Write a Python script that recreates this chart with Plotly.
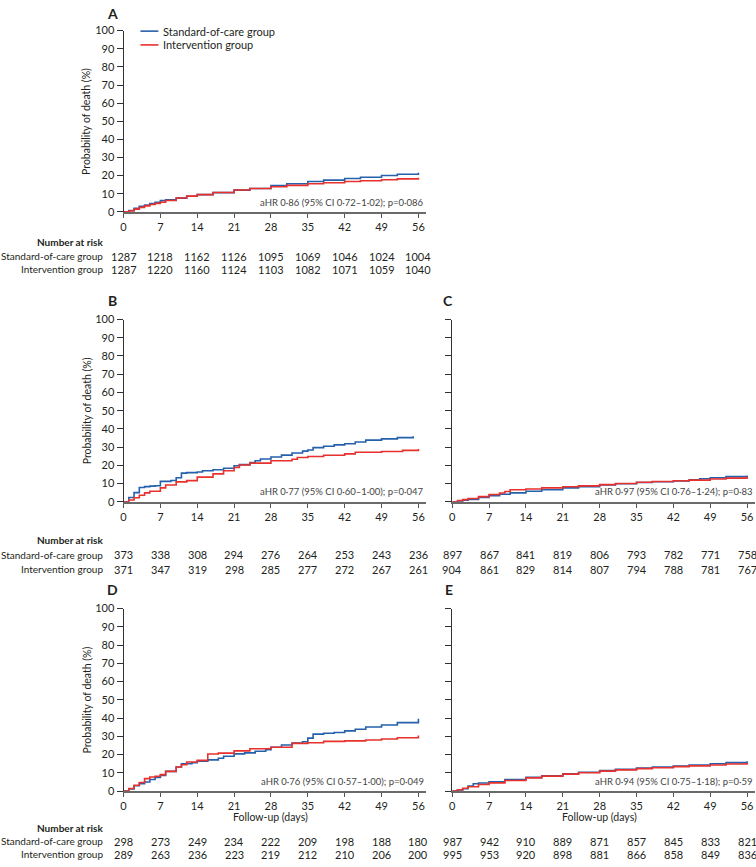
import plotly.graph_objects as go

# ---------------- DATA ----------------
tick_days = [0, 7, 14, 21, 28, 35, 42, 49, 56]

# Panel A
A_soc_days = [0, 1, 2, 3, 4, 5, 6, 7, 8, 10, 12, 14, 17, 21, 24, 28, 31, 35, 38, 42, 45, 49, 52, 56]
A_soc_pct = [0, 0.8, 2.0, 3.1, 3.8, 4.6, 5.3, 6.2, 6.6, 7.6, 8.6, 9.5, 10.6, 12.0, 12.9, 14.5, 15.5, 16.8, 17.5, 18.4, 19.1, 20.1, 20.8, 21.6]
A_int_days = [0, 1, 2, 3, 4, 5, 6, 7, 8, 10, 12, 14, 17, 21, 24, 28, 31, 35, 38, 42, 45, 49, 52, 56]
A_int_pct = [0, 0.5, 1.5, 2.5, 3.3, 4.1, 4.7, 5.3, 6.3, 7.7, 8.7, 9.5, 10.7, 12.1, 12.9, 13.9, 14.6, 15.5, 16.1, 16.8, 17.2, 17.7, 18.2, 18.9]
A_risk_soc = [1287, 1218, 1162, 1126, 1095, 1069, 1046, 1024, 1004]
A_risk_int = [1287, 1220, 1160, 1124, 1103, 1082, 1071, 1059, 1040]
A_note = "aHR 0·86 (95% CI 0·72–1·02); p=0·086"

# Panel B
B_soc_days = [0, 1, 2, 3, 4, 5, 6, 7, 9, 10, 11, 12, 14, 15, 17, 19, 21, 22, 24, 25, 26, 28, 30, 32, 34, 35, 36, 38, 40, 42, 44, 46, 49, 52, 55]
B_soc_pct = [0, 2.3, 5.0, 7.8, 8.3, 8.6, 8.8, 11.2, 11.7, 13.2, 15.7, 16.0, 16.3, 17.0, 17.6, 18.4, 19.8, 20.4, 21.5, 22.5, 23.5, 24.6, 25.6, 26.8, 27.8, 28.4, 29.7, 30.5, 31.2, 31.8, 32.8, 33.8, 34.5, 35.2, 35.9]
B_int_days = [0, 1, 2, 3, 4, 5, 7, 8, 10, 12, 14, 17, 19, 21, 22, 24, 28, 32, 33, 35, 38, 42, 44, 49, 53, 56]
B_int_pct = [0, 1.0, 2.2, 3.6, 4.9, 5.8, 7.6, 9.2, 10.9, 11.6, 13.5, 15.3, 17.0, 18.8, 20.2, 21.2, 22.5, 23.3, 24.3, 24.8, 25.5, 26.3, 27.2, 27.6, 28.2, 29.0]
B_risk_soc = [373, 338, 308, 294, 276, 264, 253, 243, 236]
B_risk_int = [371, 347, 319, 298, 285, 277, 272, 267, 261]
B_note = "aHR 0·77 (95% CI 0·60–1·00); p=0·047"

# Panel C
C_soc_days = [0, 1, 2, 3, 5, 7, 9, 11, 14, 17, 21, 24, 28, 31, 35, 38, 42, 45, 47, 49, 52, 56]
C_soc_pct = [0, 0.3, 0.8, 1.3, 2.3, 3.3, 4.1, 4.9, 5.8, 6.6, 7.6, 8.3, 9.2, 9.9, 10.6, 11.0, 11.4, 12.0, 12.6, 13.2, 13.8, 14.4]
C_int_days = [0, 1, 2, 3, 5, 7, 9, 10, 11, 14, 17, 21, 24, 28, 31, 35, 38, 42, 45, 49, 52, 56]
C_int_pct = [0, 0.6, 1.2, 1.8, 2.8, 4.0, 4.8, 5.6, 6.6, 7.0, 7.6, 8.2, 8.7, 9.4, 10.0, 10.7, 11.1, 11.5, 11.9, 12.5, 13.0, 13.8]
C_risk_soc = [897, 867, 841, 819, 806, 793, 782, 771, 758]
C_risk_int = [904, 861, 829, 814, 807, 794, 788, 781, 767]
C_note = "aHR 0·97 (95% CI 0·76–1·24); p=0·83"

# Panel D
D_soc_days = [0, 1, 2, 3, 4, 5, 6, 7, 8, 10, 11, 13, 14, 16, 18, 19, 21, 23, 25, 27, 28, 30, 32, 34, 35, 36, 38, 40, 42, 44, 46, 49, 52, 56]
D_soc_pct = [0, 1.1, 2.9, 4.1, 5.0, 6.3, 7.4, 8.6, 10.8, 13.2, 15.0, 15.5, 16.4, 17.1, 18.0, 19.1, 20.4, 20.9, 21.8, 22.7, 24.0, 25.2, 26.3, 27.0, 29.0, 31.2, 31.7, 32.1, 33.0, 33.9, 35.1, 36.2, 37.5, 39.6]
D_int_days = [0, 1, 2, 3, 4, 5, 6, 7, 8, 10, 11, 12, 14, 16, 18, 21, 24, 28, 32, 35, 38, 42, 46, 49, 52, 56]
D_int_pct = [0, 1.4, 3.2, 4.7, 6.8, 7.7, 8.1, 9.0, 10.8, 13.2, 14.4, 15.9, 16.8, 20.3, 20.8, 22.0, 23.2, 24.0, 26.1, 26.5, 27.2, 27.5, 28.0, 28.5, 29.2, 30.4]
D_risk_soc = [298, 273, 249, 234, 222, 209, 198, 188, 180]
D_risk_int = [289, 263, 236, 223, 219, 212, 210, 206, 200]
D_note = "aHR 0·76 (95% CI 0·57–1·00); p=0·049"

# Panel E
E_soc_days = [0, 1, 2, 3, 4, 5, 7, 10, 14, 17, 21, 24, 28, 31, 35, 38, 42, 45, 49, 52, 56]
E_soc_pct = [0, 0.6, 1.3, 2.7, 4.0, 4.4, 5.1, 6.3, 7.5, 8.4, 9.5, 10.3, 11.3, 11.9, 12.6, 13.1, 13.7, 14.3, 15.0, 15.6, 16.3]
E_int_days = [0, 1, 2, 3, 5, 7, 10, 14, 17, 21, 24, 28, 31, 35, 38, 42, 45, 49, 52, 56]
E_int_pct = [0, 0.7, 1.5, 2.4, 3.6, 4.5, 5.8, 7.2, 8.2, 9.3, 10.0, 10.9, 11.6, 12.3, 12.8, 13.4, 13.8, 14.3, 14.8, 15.4]
E_risk_soc = [987, 942, 910, 889, 871, 857, 845, 833, 821]
E_risk_int = [995, 953, 920, 898, 881, 866, 858, 849, 836]
E_note = "aHR 0·94 (95% CI 0·75–1·18); p=0·59"

SOC_NAME = "Standard-of-care group"
INT_NAME = "Intervention group"
BLUE = "#2560ab"
RED = "#e8302c"

# ---------------- LAYOUT HELPERS ----------------
W, H = 756, 867
FONT = "Lato, 'Open Sans', sans-serif"
TXT = "#231f20"
FS = 10.5      # titles / tick labels
FL = 10        # row labels of the risk table


def fx(p):
    return p / W


def fy(p):
    return 1 - p / H


left_dom = [fx(121), fx(425)]
right_dom = [fx(451), fx(755)]
rowA = (24, 208)
rowB = (317.3, 502.3)
rowD = (610.7, 796)

panels = [
    dict(n="", L="A", xd=left_dom, row=rowA, sd=A_soc_days, sp=A_soc_pct, idd=A_int_days, ip=A_int_pct,
         rs=A_risk_soc, ri=A_risk_int, note=A_note, ylab=True, xt=False, tab=(239, 253, 266), lpos=(110, 7)),
    dict(n="2", L="B", xd=left_dom, row=rowB, sd=B_soc_days, sp=B_soc_pct, idd=B_int_days, ip=B_int_pct,
         rs=B_risk_soc, ri=B_risk_int, note=B_note, ylab=True, xt=False, tab=(541, 556, 571), lpos=(110, 298)),
    dict(n="3", L="C", xd=right_dom, row=rowB, sd=C_soc_days, sp=C_soc_pct, idd=C_int_days, ip=C_int_pct,
         rs=C_risk_soc, ri=C_risk_int, note=C_note, ylab=False, xt=False, tab=None, rowtab=(556, 571), lpos=(447, 298)),
    dict(n="4", L="D", xd=left_dom, row=rowD, sd=D_soc_days, sp=D_soc_pct, idd=D_int_days, ip=D_int_pct,
         rs=D_risk_soc, ri=D_risk_int, note=D_note, ylab=True, xt=True, tab=(833, 847, 860), lpos=(110, 591)),
    dict(n="5", L="E", xd=right_dom, row=rowD, sd=E_soc_days, sp=E_soc_pct, idd=E_int_days, ip=E_int_pct,
         rs=E_risk_soc, ri=E_risk_int, note=E_note, ylab=False, xt=True, tab=None, rowtab=(847, 860), lpos=(448, 591)),
]

fig = go.Figure()
annotations = []
shapes = []
layout = {}

for p in panels:
    n = p["n"]
    xa = "x" + n
    ya = "y" + n
    top, bot = p["row"]
    fig.add_trace(go.Scatter(x=p["sd"], y=p["sp"], mode="lines", line=dict(color=BLUE, width=1.6, shape="hv"),
                             name=SOC_NAME, showlegend=False, xaxis=xa, yaxis=ya, cliponaxis=False))
    fig.add_trace(go.Scatter(x=p["idd"], y=p["ip"], mode="lines", line=dict(color=RED, width=1.6, shape="hv"),
                             name=INT_NAME, showlegend=False, xaxis=xa, yaxis=ya, cliponaxis=False))
    layout["xaxis" + n] = dict(
        domain=p["xd"], anchor=ya, range=[0, 57.5], tickmode="array", tickvals=tick_days,
        ticktext=[str(t) for t in tick_days], ticks="outside", ticklen=4, tickwidth=1, tickcolor="#555",
        showline=True, linecolor="#6a6a6a", linewidth=1.5, showgrid=False, zeroline=False,
        tickfont=dict(size=FS + 0.5, color=TXT, family=FONT), fixedrange=True,
    )
    layout["yaxis" + n] = dict(
        domain=[fy(bot), fy(top)], anchor=xa, range=[0, 100], tickmode="array",
        tickvals=list(range(0, 101, 10)), ticks="outside", ticklen=6, tickwidth=1, tickcolor="#333",
        showline=True, linecolor="#333", linewidth=1, showgrid=False, zeroline=False,
        showticklabels=p["ylab"], tickfont=dict(size=FS + 0.5, color=TXT, family=FONT), fixedrange=True,
    )
    annotations.append(dict(x=fx(p["lpos"][0]), y=fy(p["lpos"][1]), xref="paper", yref="paper",
                            text="<b>" + p["L"] + "</b>", showarrow=False, xanchor="center", yanchor="middle",
                            font=dict(size=14, color=TXT, family=FONT)))
    annotations.append(dict(x=p["xd"][1], y=fy(bot - 10), xref="paper", yref="paper", text=p["note"],
                            showarrow=False, xanchor="right", yanchor="middle",
                            font=dict(size=9.5, color="#444", family=FONT)))
    if p["ylab"]:
        annotations.append(dict(x=fx(84), y=fy((top + bot) / 2), xref="paper", yref="paper",
                                text="Probability of death (%)", textangle=-90, showarrow=False,
                                xanchor="center", yanchor="middle", font=dict(size=FS, color=TXT, family=FONT)))
    if p["xt"]:
        annotations.append(dict(x=28, xref=xa, y=fy(822), yref="paper", text="Follow-up (days)",
                                showarrow=False, xanchor="center", yanchor="middle",
                                font=dict(size=FS, color=TXT, family=FONT)))
    if p["tab"] is not None:
        t0, t1, t2 = p["tab"]
        annotations.append(dict(x=fx(102), y=fy(t0), xref="paper", yref="paper", text="<b>Number at risk</b>",
                                showarrow=False, xanchor="right", yanchor="middle",
                                font=dict(size=FL, color=TXT, family=FONT)))
        for lab, yy in ((SOC_NAME, t1), (INT_NAME, t2)):
            annotations.append(dict(x=fx(102), y=fy(yy), xref="paper", yref="paper", text=lab,
                                    showarrow=False, xanchor="right", yanchor="middle",
                                    font=dict(size=FL, color=TXT, family=FONT)))
        r1, r2 = t1, t2
    else:
        r1, r2 = p["rowtab"]
    for d, v in zip(tick_days, p["rs"]):
        annotations.append(dict(x=d, xref=xa, y=fy(r1), yref="paper", text=str(v), showarrow=False,
                                xanchor="center", yanchor="middle", font=dict(size=FS + 0.5, color=TXT, family=FONT)))
    for d, v in zip(tick_days, p["ri"]):
        annotations.append(dict(x=d, xref=xa, y=fy(r2), yref="paper", text=str(v), showarrow=False,
                                xanchor="center", yanchor="middle", font=dict(size=FS + 0.5, color=TXT, family=FONT)))

# legend (panel A)
for name, col, yy in ((SOC_NAME, BLUE, 24.5), (INT_NAME, RED, 38.5)):
    shapes.append(dict(type="line", xref="paper", yref="paper", x0=fx(138), x1=fx(156), y0=fy(yy), y1=fy(yy),
                       line=dict(color=col, width=1.6)))
    annotations.append(dict(x=fx(159), y=fy(yy), xref="paper", yref="paper", text=name, showarrow=False,
                            xanchor="left", yanchor="middle", font=dict(size=FS + 0.5, color=TXT, family=FONT)))

fig.update_layout(
    width=W, height=H, margin=dict(l=0, r=0, t=0, b=0), paper_bgcolor="white", plot_bgcolor="white",
    showlegend=False, annotations=annotations, shapes=shapes, font=dict(family=FONT, color=TXT), **layout,
)

fig.write_html(
    "out.html",
    config={"displayModeBar": False},
    post_script="document.body.style.margin='0';document.body.style.padding='0';"
                "document.documentElement.style.overflow='hidden';",
)
